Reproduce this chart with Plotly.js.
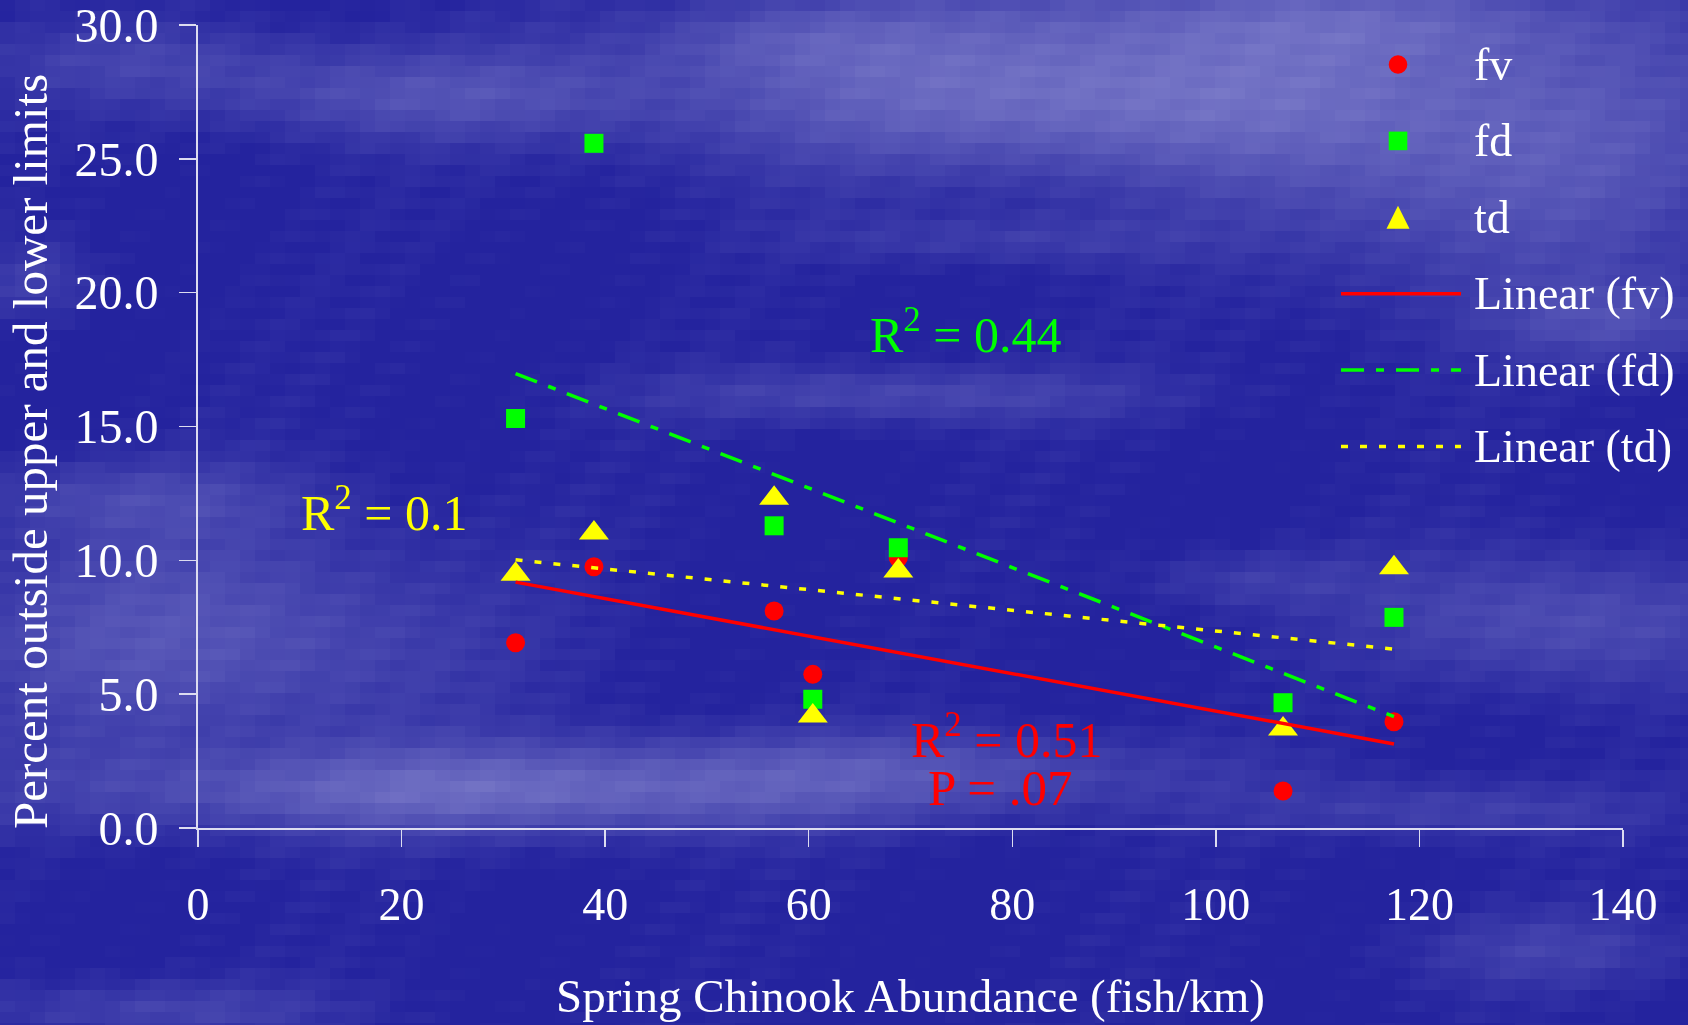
<!DOCTYPE html>
<html>
<head>
<meta charset="utf-8">
<script src="https://cdn.plot.ly/plotly-3.0.1.min.js"></script>
<style>
  html, body { margin: 0; padding: 0; background: #2624a0; overflow: hidden; }
  #sky { position: absolute; left: 0; top: 0; }
  #chart { position: absolute; left: 0; top: 0; width: 1688px; height: 1025px; }
</style>
</head>
<body>
<canvas id="sky" width="1688" height="1025"></canvas>
<div id="chart"></div>
<script>
// Spring Chinook abundance (fish/km) at each sampled reach
const abundance = [31.2, 38.9, 56.6, 60.4, 68.8, 106.6, 117.5];
// Percent of values outside upper and lower limits
const fv = [6.92, 9.76, 8.11, 5.74, 10.1, 1.38, 3.97];
const fd = [15.30, 25.58, 11.29, 4.81, 10.47, 4.68, 7.87];
const td = [9.48, 11.02, 12.32, 4.18, 9.60, 3.70, 9.72];

const seriesNames = ['fv', 'fd', 'td'];
const fitNames = ['Linear (fv)', 'Linear (fd)', 'Linear (td)'];
const fitNotes = ['R<sup>2</sup> = 0.51', 'R<sup>2</sup> = 0.44', 'R<sup>2</sup> = 0.1'];
const pNote = 'P = .07';

const xTickVals = [0, 20, 40, 60, 80, 100, 120, 140];
const yTickVals = [0, 5, 10, 15, 20, 25, 30];

// ---- cloudy blue backdrop, drawn as coarse blocks ----
(function drawSky() {
  const cv = document.getElementById('sky');
  const ctx = cv.getContext('2d');
  const CW = 15, CH = 11;
  const clouds = [
    [430, 95, 260, 45, 0.42], [150, 60, 180, 40, 0.28],
    [1100, 90, 420, 90, 0.80], [800, 40, 150, 40, 0.40],
    [1500, 150, 250, 150, 0.55], [1300, 25, 300, 40, 0.50],
    [900, 395, 260, 30, 0.38], [1620, 320, 120, 40, 0.38],
    [200, 640, 280, 120, 0.50], [130, 500, 180, 40, 0.32],
    [500, 790, 420, 45, 0.70], [900, 770, 300, 40, 0.40],
    [1450, 810, 200, 30, 0.32], [1560, 620, 200, 70, 0.45],
    [1250, 580, 120, 30, 0.25], [150, 1010, 200, 30, 0.32],
    [1550, 950, 150, 40, 0.28], [1000, 240, 200, 25, 0.25],
    [40, 280, 60, 40, 0.28]
  ];
  const dark = [36, 35, 158], light = [134, 134, 206];
  for (let j = 0; j * CH < 1025; j++) {
    for (let i = 0; i * CW < 1688; i++) {
      const x = i * CW + CW / 2, y = j * CH + CH / 2;
      let keep = 1;
      for (const c of clouds) {
        const dx = (x - c[0]) / c[2], dy = (y - c[1]) / c[3];
        keep *= 1 - c[4] * Math.exp(-dx * dx - dy * dy);
      }
      let v = 1 - keep;
      v += 0.06 * Math.sin(0.9 * i + 2.1 * j) * Math.sin(0.37 * i - 1.3 * j + 0.5)
         + 0.04 * Math.sin(0.23 * i + 0.11 * j);
      v = Math.max(0, Math.min(1, v));
      const r = Math.round(dark[0] + v * (light[0] - dark[0]));
      const g = Math.round(dark[1] + v * (light[1] - dark[1]));
      const b = Math.round(dark[2] + v * (light[2] - dark[2]));
      ctx.fillStyle = 'rgb(' + r + ',' + g + ',' + b + ')';
      ctx.fillRect(i * CW, j * CH, CW, CH);
    }
  }
})();

// ---- least-squares trend for each series ----
function linearFit(xs, ys) {
  const n = xs.length;
  const mx = xs.reduce((a, b) => a + b, 0) / n;
  const my = ys.reduce((a, b) => a + b, 0) / n;
  let sxy = 0, sxx = 0;
  for (let k = 0; k < n; k++) { sxy += (xs[k] - mx) * (ys[k] - my); sxx += (xs[k] - mx) ** 2; }
  const slope = sxy / sxx;
  return { slope: slope, intercept: my - slope * mx };
}
const xMin = Math.min(...abundance), xMax = Math.max(...abundance);
function trendTrace(ys, name, color, dash) {
  const f = linearFit(abundance, ys);
  return {
    x: [xMin, xMax], y: [f.intercept + f.slope * xMin, f.intercept + f.slope * xMax],
    type: 'scatter', mode: 'lines', name: name, showlegend: false, hoverinfo: 'skip',
    line: { color: color, width: 3.5, dash: dash }
  };
}

const FONT = 'Liberation Serif, Times New Roman, serif';
const RED = '#ff0000', GREEN = '#00ff00', YELLOW = '#ffff00';
const DASH_FD = '23px,12px,8px,12px';
const DASH_TD = '7px,12px';

const traces = [
  { x: abundance, y: fv, type: 'scatter', mode: 'markers', name: seriesNames[0], showlegend: false,
    marker: { symbol: 'circle', size: 19, color: RED } },
  { x: abundance, y: fd, type: 'scatter', mode: 'markers', name: seriesNames[1], showlegend: false,
    marker: { symbol: 'square', size: 19, color: GREEN } },
  { x: abundance, y: td, type: 'scatter', mode: 'markers', name: seriesNames[2], showlegend: false,
    marker: { symbol: 'triangle-up', size: 26, color: YELLOW } },
  trendTrace(fv, fitNames[0], RED, 'solid'),
  trendTrace(fd, fitNames[1], GREEN, DASH_FD),
  trendTrace(td, fitNames[2], YELLOW, DASH_TD)
];

// plot frame in page pixels
const M = { l: 198, r: 65, t: 25, b: 197 };
const PW = 1688 - M.l - M.r, PH = 1025 - M.t - M.b;
const px2paperX = p => (p - M.l) / PW;
const px2paperY = p => (M.t + PH - p) / PH;

// ---- key at the upper right ----
const keyRow0 = 64.5, keyStep = 76.4, keySymX = 1398, keyLineX0 = 1341, keyLineX1 = 1461, keyTextX = 1472;
const keyEntries = [
  { label: seriesNames[0], kind: 'circle', color: RED },
  { label: seriesNames[1], kind: 'square', color: GREEN },
  { label: seriesNames[2], kind: 'triangle', color: YELLOW },
  { label: fitNames[0], kind: 'line', color: RED, dash: 'solid' },
  { label: fitNames[1], kind: 'line', color: GREEN, dash: DASH_FD },
  { label: fitNames[2], kind: 'line', color: YELLOW, dash: DASH_TD }
];
const shapes = [];
const annotations = [];
keyEntries.forEach((e, k) => {
  const py = keyRow0 + k * keyStep;
  const ya = px2paperY(py);
  const base = { xref: 'paper', yref: 'paper', xsizemode: 'pixel', ysizemode: 'pixel',
                 xanchor: px2paperX(keySymX), yanchor: ya, fillcolor: e.color, line: { width: 0 } };
  if (e.kind === 'circle') shapes.push(Object.assign({ type: 'circle', x0: -9.3, x1: 9.3, y0: -9.3, y1: 9.3 }, base));
  if (e.kind === 'square') shapes.push(Object.assign({ type: 'rect', x0: -9.3, x1: 9.3, y0: -9.3, y1: 9.3 }, base));
  if (e.kind === 'triangle') shapes.push(Object.assign({ type: 'path', path: 'M-11.5,-11.5 L11.5,-11.5 L0,11.5 Z' }, base));
  if (e.kind === 'line') shapes.push({ type: 'line', xref: 'paper', yref: 'paper',
    x0: px2paperX(keyLineX0), x1: px2paperX(keyLineX1), y0: ya, y1: ya,
    line: { color: e.color, width: 3.5, dash: e.dash } });
  annotations.push({ xref: 'paper', yref: 'paper', x: px2paperX(keyTextX), y: ya,
    xanchor: 'left', yanchor: 'middle', showarrow: false, text: e.label,
    font: { family: FONT, size: 46, color: '#ffffff' } });
});

// ---- fit notes beside the trend lines ----
annotations.push(
  { x: 75.5, y: 18.55, text: fitNotes[1], showarrow: false, font: { family: FONT, size: 50, color: GREEN } },
  { x: 18.3, y: 11.9, text: fitNotes[2], showarrow: false, font: { family: FONT, size: 50, color: YELLOW } },
  { x: 79.5, y: 3.4, text: fitNotes[0], showarrow: false, font: { family: FONT, size: 50, color: RED } },
  { x: 78.8, y: 1.5, text: pNote, showarrow: false, font: { family: FONT, size: 51, color: RED } }
);

// vertical axis caption, set a little below the middle of the frame
annotations.push({
  xref: 'paper', yref: 'paper', x: px2paperX(30), y: px2paperY(452),
  xanchor: 'center', yanchor: 'middle', textangle: -90, showarrow: false,
  text: 'Percent outside upper and lower limits',
  font: { family: FONT, size: 49, color: '#ffffff' }
});

const axisCommon = {
  showgrid: false, zeroline: false, showline: true, linecolor: '#dcdcf0', linewidth: 2,
  ticks: 'outside', ticklen: 17, tickwidth: 1.5, tickcolor: '#dcdcf0',
  tickfont: { family: FONT, size: 48, color: '#ffffff' }, fixedrange: true,
  ticklabeloverflow: 'allow'
};

const layout = {
  width: 1688, height: 1025,
  margin: M,
  paper_bgcolor: 'rgba(0,0,0,0)', plot_bgcolor: 'rgba(0,0,0,0)',
  showlegend: false,
  font: { family: FONT, color: '#ffffff' },
  xaxis: Object.assign({}, axisCommon, {
    range: [0, 140], tickmode: 'array', tickvals: xTickVals,
    tickfont: { family: FONT, size: 46, color: '#ffffff' },
    ticklabelstandoff: 18,
    title: { text: 'Spring Chinook Abundance (fish/km)', standoff: 50,
             font: { family: FONT, size: 47, color: '#ffffff' } }
  }),
  yaxis: Object.assign({}, axisCommon, {
    range: [0, 30], tickmode: 'array', tickvals: yTickVals, tickformat: '.1f',
    ticklabelstandoff: 11
  }),
  shapes: shapes,
  annotations: annotations
};

Plotly.newPlot('chart', traces, layout, { displayModeBar: false, staticPlot: true });
</script>
</body>
</html>
